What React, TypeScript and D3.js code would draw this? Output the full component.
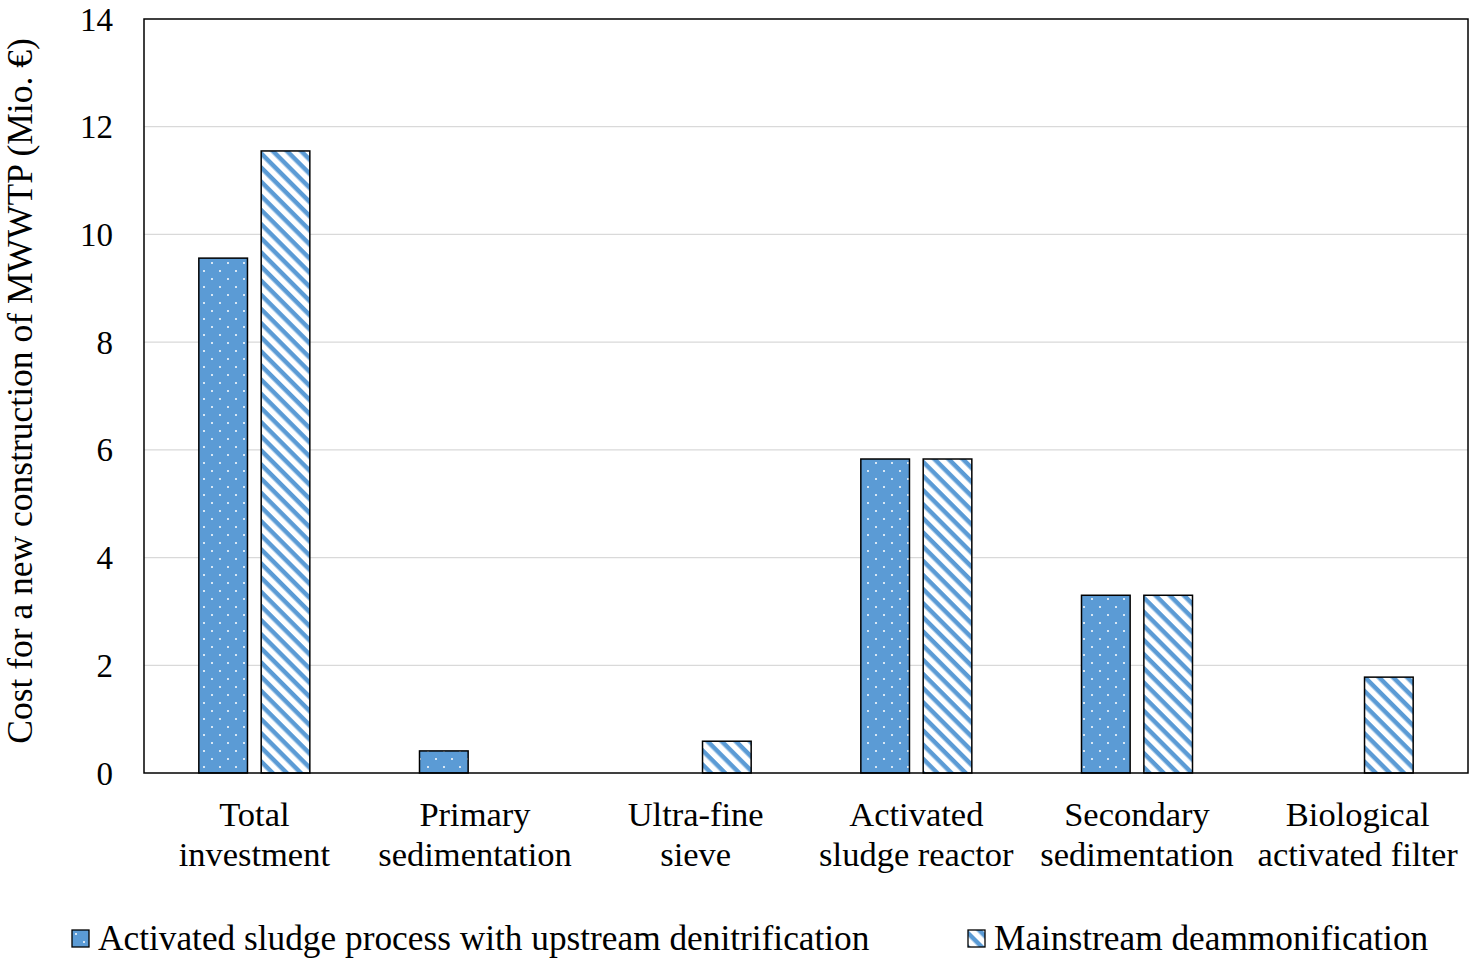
import { useEffect, useRef } from 'react';
import * as d3 from 'd3';

// chart data
const categories = [
    ['Total', 'investment'],
    ['Primary', 'sedimentation'],
    ['Ultra-fine', 'sieve'],
    ['Activated', 'sludge reactor'],
    ['Secondary', 'sedimentation'],
    ['Biological', 'activated filter'],
];
const seriesNames = [
    'Activated sludge process with upstream denitrification',
    'Mainstream deammonification',
];
const aspValues = [9.56, 0.41, 0, 5.83, 3.30, 0];
const deamValues = [11.55, 0, 0.59, 5.83, 3.30, 1.78];
const yTicks = [0, 2, 4, 6, 8, 10, 12, 14];

const WIDTH = 1476;
const HEIGHT = 966;
const BLUE = '#5b9bd5';
const FONT = '"Liberation Serif", "Times New Roman", serif';

export default function App() {
    const svgRef = useRef<SVGSVGElement>(null);

    useEffect(() => {
        if (!svgRef.current) return;
        const svg = d3.select(svgRef.current);
        svg.selectAll('*').remove();

        const margin = { top: 19, right: 8, bottom: 193, left: 144 };
        const innerWidth = WIDTH - margin.left - margin.right;
        const innerHeight = HEIGHT - margin.top - margin.bottom;

        // fill patterns
        const defs = svg.append('defs');
        const dots = defs.append('pattern')
            .attr('id', 'dots')
            .attr('patternUnits', 'userSpaceOnUse')
            .attr('width', 16)
            .attr('height', 16);
        dots.append('rect').attr('width', 16).attr('height', 16).attr('fill', BLUE);
        dots.append('circle').attr('cx', 4).attr('cy', 4).attr('r', 1).attr('fill', '#fff');
        dots.append('circle').attr('cx', 12).attr('cy', 12).attr('r', 1).attr('fill', '#fff');

        const hatch = defs.append('pattern')
            .attr('id', 'hatch')
            .attr('patternUnits', 'userSpaceOnUse')
            .attr('width', 10)
            .attr('height', 10)
            .attr('patternTransform', 'rotate(45)');
        hatch.append('rect').attr('width', 10).attr('height', 10).attr('fill', '#fff');
        hatch.append('rect').attr('width', 10).attr('height', 4.5).attr('fill', BLUE);

        const g = svg.append('g')
            .attr('transform', `translate(${margin.left},${margin.top})`);

        const x = d3.scaleBand<number>()
            .domain(d3.range(categories.length))
            .range([0, innerWidth]);
        const x1 = d3.scaleBand<number>()
            .domain([0, 1])
            .range([x.bandwidth() / 2 - 55.5, x.bandwidth() / 2 + 55.5])
            .paddingInner(0.22);
        const y = d3.scaleLinear().domain([0, 14]).range([innerHeight, 0]);

        // gridlines
        g.selectAll('.grid')
            .data(yTicks.filter(t => t > 0 && t < 14))
            .join('line')
            .attr('x1', 0)
            .attr('x2', innerWidth)
            .attr('y1', d => y(d))
            .attr('y2', d => y(d))
            .attr('stroke', '#d9d9d9')
            .attr('stroke-width', 1.3);

        // bars
        const series = [
            { values: aspValues, fill: 'url(#dots)' },
            { values: deamValues, fill: 'url(#hatch)' },
        ];
        series.forEach((s, si) => {
            g.selectAll(`.bar-${si}`)
                .data(s.values.map((v, i) => ({ v, i })).filter(d => d.v > 0))
                .join('rect')
                .attr('x', d => (x(d.i) ?? 0) + (x1(si) ?? 0))
                .attr('y', d => y(d.v))
                .attr('width', x1.bandwidth())
                .attr('height', d => innerHeight - y(d.v))
                .attr('fill', s.fill)
                .attr('stroke', '#000')
                .attr('stroke-width', 1.5);
        });

        // frame
        g.append('rect')
            .attr('width', innerWidth)
            .attr('height', innerHeight)
            .attr('fill', 'none')
            .attr('stroke', '#000')
            .attr('stroke-width', 1.5);

        // y axis labels
        g.selectAll('.ytick')
            .data(yTicks)
            .join('text')
            .attr('x', -31)
            .attr('y', d => y(d))
            .attr('dy', '0.35em')
            .attr('text-anchor', 'end')
            .attr('font-family', FONT)
            .attr('font-size', 33)
            .text(d => d);

        // category labels
        const cat = g.selectAll('.cat')
            .data(categories)
            .join('text')
            .attr('text-anchor', 'middle')
            .attr('font-family', FONT)
            .attr('font-size', 34.5)
            .attr('transform', (_, i) => `translate(${(x(i) ?? 0) + x.bandwidth() / 2},${innerHeight + 53})`);
        cat.selectAll('tspan')
            .data(d => d)
            .join('tspan')
            .attr('x', 0)
            .attr('dy', (_, i) => (i === 0 ? 0 : 40))
            .text(d => d);

        // y axis title
        svg.append('text')
            .attr('transform', `translate(32,${margin.top + innerHeight / 2 - 5}) rotate(-90)`)
            .attr('text-anchor', 'middle')
            .attr('font-family', FONT)
            .attr('font-size', 35.5)
            .text('Cost for a new construction of MWWTP (Mio. €)');

        // legend
        const legendX = [72, 968];
        const legend = svg.selectAll('.legend')
            .data(seriesNames)
            .join('g')
            .attr('transform', (_, i) => `translate(${legendX[i]},930)`);
        legend.append('rect')
            .attr('width', 17)
            .attr('height', 17)
            .attr('fill', (_, i) => (i === 0 ? 'url(#dots)' : 'url(#hatch)'))
            .attr('stroke', '#000')
            .attr('stroke-width', 1.3);
        legend.append('text')
            .attr('x', 26)
            .attr('y', 20)
            .attr('font-family', FONT)
            .attr('font-size', 35.3)
            .text(d => d);
    }, []);

    return (
        <svg
            ref={svgRef}
            width={WIDTH}
            height={HEIGHT}
            style={{ position: 'absolute', left: 0, top: 0, background: '#fff' }}
        />
    );
}
